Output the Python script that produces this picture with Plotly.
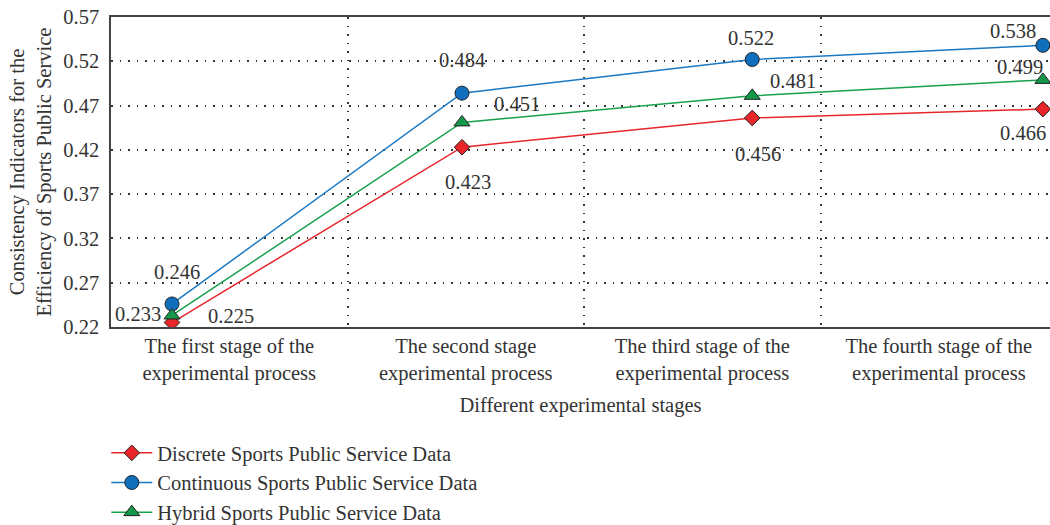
import plotly.graph_objects as go

# stages of the experiment (x axis categories)
stage_labels = [
    "The first stage of the<br>experimental process",
    "The second stage<br>experimental process",
    "The third stage of the<br>experimental process",
    "The fourth stage of the<br>experimental process",
]
stage_pos = [0.258, 1.484, 2.711, 3.94]

discrete = [0.225, 0.423, 0.456, 0.466]
continuous = [0.246, 0.484, 0.522, 0.538]
hybrid = [0.233, 0.451, 0.481, 0.499]

y_ticks = [0.22, 0.27, 0.32, 0.37, 0.42, 0.47, 0.52, 0.57]

# label offsets in pixels (xshift, yshift) for each point label
discrete_off = [(59, 7), (6, -35), (6, -36), (-20, -24)]
continuous_off = [(5, 32), (0, 33), (-1, 22), (-30, 14)]
hybrid_off = [(-34, 1), (55, 18), (41, 15), (-23, 13)]

FONT = "Liberation Serif"
FS = 20.5
TXT = "#333333"

fig = go.Figure()

series = [
    ("Discrete Sports Public Service Data", discrete, "#e8262a", "#e8262a", "diamond", 12, discrete_off),
    ("Continuous Sports Public Service Data", continuous, "#1a78c2", "#0f6fbd", "circle", 14, continuous_off),
    ("Hybrid Sports Public Service Data", hybrid, "#18a04c", "#13984a", "triangle-up", 14, hybrid_off),
]

for name, vals, line_col, fill_col, sym, size, offs in series:
    fig.add_trace(
        go.Scatter(
            x=stage_pos,
            y=vals,
            mode="lines+markers",
            name=name,
            line=dict(color=line_col, width=1.5),
            marker=dict(symbol=sym, size=size, color=fill_col,
                        line=dict(color="#222222", width=1)),
        )
    )
    for xv, yv, (dx, dy) in zip(stage_pos, vals, offs):
        fig.add_annotation(
            x=xv, y=yv, text=f"{yv:.3f}", showarrow=False,
            xshift=dx, yshift=dy,
            font=dict(family=FONT, size=FS, color=TXT),
        )

fig.update_layout(
    width=1050,
    height=525,
    # autoexpand off so the legend cannot shrink the plot area
    margin=dict(l=111, r=0, t=17, b=198, autoexpand=False),
    paper_bgcolor="white",
    plot_bgcolor="white",
    font=dict(family=FONT, size=FS, color=TXT),
    showlegend=True,
    legend=dict(
        x=-0.005, y=-0.342, xanchor="left", yanchor="top",
        font=dict(family=FONT, size=FS, color=TXT),
        tracegroupgap=0, itemwidth=41,
    ),
)

fig.update_xaxes(
    range=[0, 3.97],
    automargin=False,
    tickvals=[0.5, 1.5, 2.5, 3.5],
    ticktext=stage_labels,
    tickangle=0,
    showgrid=False,
    zeroline=False,
    showline=True, linecolor="#444444", linewidth=1.5, mirror=True,
    ticks="",
    tickfont=dict(family=FONT, size=FS, color=TXT),
    title=dict(text="Different experimental stages", standoff=14,
               font=dict(family=FONT, size=FS, color=TXT)),
    minor=dict(tickvals=[1, 2, 3], showgrid=True, gridcolor="#333333",
               griddash="1.5px,7px", gridwidth=1.5),
)

fig.update_yaxes(
    range=[0.22, 0.57],
    automargin=False,
    tickvals=y_ticks,
    ticktext=[f"{v:.2f}" for v in y_ticks],
    ticklabeloverflow="allow",
    showgrid=True, gridcolor="#333333", griddash="1.5px,7px", gridwidth=1.5,
    zeroline=False,
    showline=True, linecolor="#444444", linewidth=1.5, mirror=True,
    ticks="outside", ticklen=6, tickcolor="rgba(0,0,0,0)",
    tickfont=dict(family=FONT, size=FS, color=TXT),
    title=dict(text="Consistency Indicators for the<br>Efficiency of Sports Public Service",
               standoff=6, font=dict(family=FONT, size=FS, color=TXT)),
)

# drop the default page margin so the 1050x525 figure fills the window
fig.write_html(
    "out.html",
    config={"displayModeBar": False},
    post_script="document.body.style.margin='0';",
)
